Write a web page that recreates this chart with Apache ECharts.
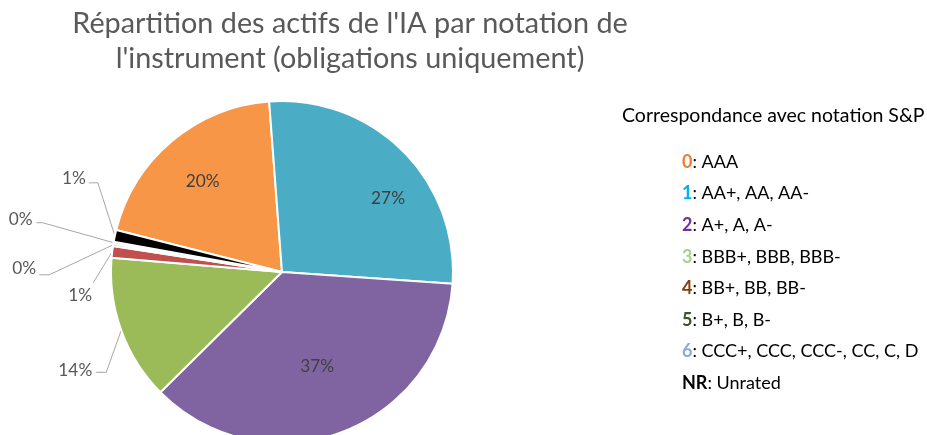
<!DOCTYPE html>
<html><head><meta charset="utf-8">
<script src="https://cdn.jsdelivr.net/npm/echarts@6/dist/echarts.min.js"></script>
<style>html,body{margin:0;padding:0;background:#fff}#c{width:927px;height:435px}</style>
</head><body><div id="c"></div>
<script>
// ---- data ----
const titleLines = ["Répartition des actifs de l'IA par notation de", "l'instrument (obligations uniquement)"];
const categories = ['0', '1', '2', '3', '4', '5', '6', 'NR'];
const shares = [19.8, 27.2, 36.4, 13.7, 1.1, 0.2, 0.2, 1.1];
const legendTitle = 'Correspondance avec notation S&P';
const legendKeys = ['0', '1', '2', '3', '4', '5', '6', 'NR'];
const legendTexts = ['AAA', 'AA+, AA, AA-', 'A+, A, A-', 'BBB+, BBB, BBB-', 'BB+, BB, BB-', 'B+, B, B-', 'CCC+, CCC, CCC-, CC, C, D', 'Unrated'];

// ---- styles / layout ----
const sliceColors = ['#F79646', '#4BACC6', '#8064A2', '#9BBB59', '#C0504D', '#4F6228', '#8EB4E3', '#000000'];
const legendKeyColors = ['#ED7D31', '#00B0F0', '#7030A0', '#A9D08E', '#843C0C', '#375623', '#8EA9DB', '#000000'];
const FONT = 'Lato, "Open Sans", sans-serif';
const CX = 282, CY = 272, R = 171;
const insideKx = [0.72, 0.88, 0.59];
const insideKy = [0.69, 0.61, 0.59];
const outsideLayout = {
  3: {a: [-15, 42], b: [-25, 42], t: [-29, 40]},
  4: {a: [-19, 31], b: [-19, 31], t: [-20, 44]},
  5: {a: [-64, 30], b: [-74, 30], t: [-77, 24]},
  6: {a: [-71, -20], b: [-77, -20], t: [-81, -23]},
  7: {a: [-17, -53], b: [-26, -53], t: [-29, -57]}
};

const ctx = document.createElement('canvas').getContext('2d');
function fit(text, weight, target) {
  ctx.font = weight + ' 100px ' + FONT;
  return Math.round(100 * target / ctx.measureText(text).width * 10) / 10;
}
const titleSize = fit(titleLines[0], 'normal', 555);
const headerSize = fit(legendTitle, 'normal', 303);
const legendSize = fit('6: ' + legendTexts[6], 'normal', 236);
const labelSize = fit('14%', 'normal', 34);

const chart = echarts.init(document.getElementById('c'), null, {renderer: 'canvas'});

const graphics = [];
titleLines.forEach((t, i) => {
  graphics.push({type: 'text', x: 350, y: 24 + i * 35,
    style: {text: t, fill: '#595959', fontSize: titleSize, fontFamily: FONT, align: 'center', verticalAlign: 'middle'}});
});
graphics.push({type: 'text', x: 622, y: 116,
  style: {text: legendTitle, fill: '#000', fontSize: headerSize, fontFamily: FONT, align: 'left', verticalAlign: 'middle'}});
legendKeys.forEach((k, i) => {
  graphics.push({type: 'text', x: 682, y: 162 + i * 31.6,
    style: {text: '{k|' + k + '}: ' + legendTexts[i], fill: '#000', fontSize: legendSize, fontFamily: FONT,
      align: 'left', verticalAlign: 'middle',
      rich: {k: {fill: legendKeyColors[i], fontWeight: 'bold', fontSize: legendSize, fontFamily: FONT}}}});
});

chart.setOption({
  animation: false,
  graphic: graphics,
  series: [{
    type: 'pie',
    center: [CX, CY],
    radius: R,
    startAngle: 165.8,
    clockwise: true,
    percentPrecision: 0,
    avoidLabelOverlap: false,
    silent: true,
    itemStyle: {borderColor: '#fff', borderWidth: 2},
    label: {show: true, position: 'outside', formatter: '{d}%', color: '#595959', fontSize: labelSize, fontFamily: FONT},
    labelLine: {show: true, length: 10, length2: 10, lineStyle: {color: '#A6A6A6', width: 1}},
    data: categories.map((c, i) => ({
      name: c, value: shares[i], itemStyle: {color: sliceColors[i]},
      label: i < 3 ? {color: '#404040'} : {},
      labelLine: {lineStyle: {opacity: i < 3 ? 0 : 1}}
    })),
    labelLayout: function (p) {
      const pts = p.labelLinePoints;
      if (!pts) return {};
      const e = pts[0], i = p.dataIndex;
      if (i < 3) {
        return {x: CX + (e[0] - CX) * insideKx[i], y: CY + (e[1] - CY) * insideKy[i],
          align: 'center', verticalAlign: 'middle', labelLinePoints: [e, e, e]};
      }
      const L = outsideLayout[i];
      return {x: e[0] + L.t[0], y: e[1] + L.t[1], align: 'right', verticalAlign: 'middle',
        labelLinePoints: [[e[0], e[1]], [e[0] + L.a[0], e[1] + L.a[1]], [e[0] + L.b[0], e[1] + L.b[1]]]};
    }
  }]
});
</script></body></html>
